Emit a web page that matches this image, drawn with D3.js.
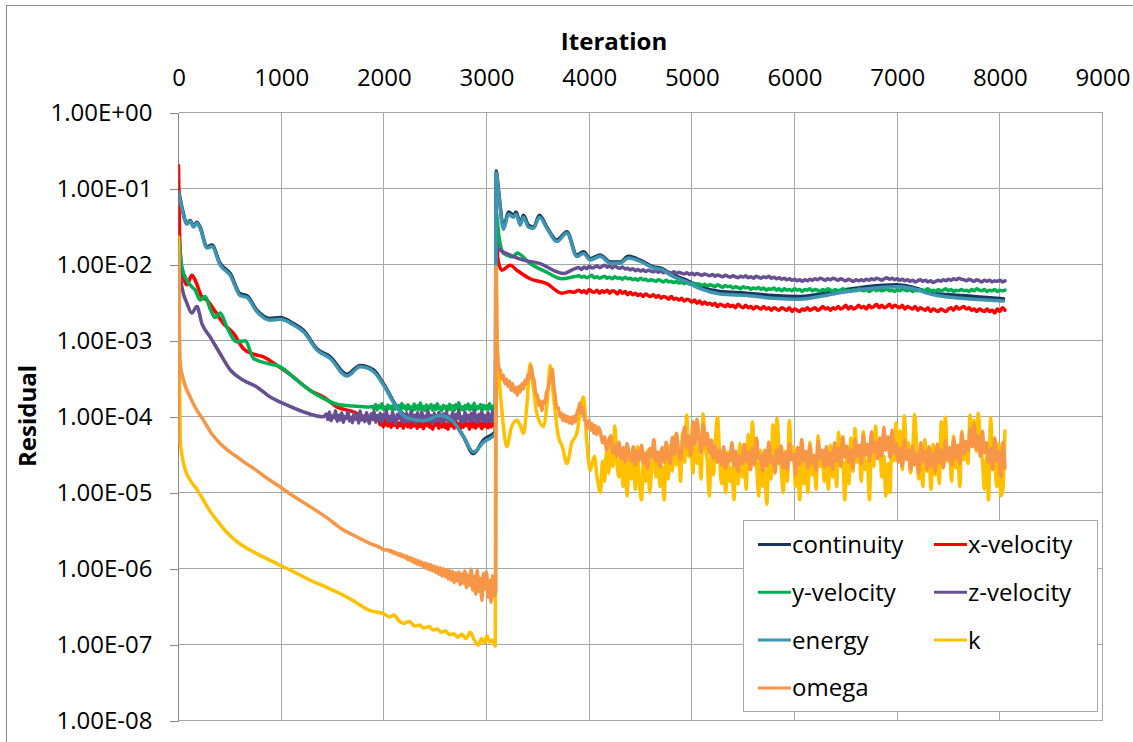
<!DOCTYPE html>
<html>
<head>
<meta charset="utf-8">
<script src="https://cdn.jsdelivr.net/npm/d3@7"></script>
<style>
  body { margin: 0; background: #fff; }
  svg text { font-family: "Open Sans", sans-serif; fill: #000; }
</style>
</head>
<body>
<svg id="chart" width="1133" height="742"></svg>
<script>
// Residual history of a CFD run, restarted at ~3100 iterations.
// Smooth parts are [iteration, residual] pairs, noisy parts are sampled values
// at a fixed iteration step (unit noted on each array).

const xTicks = [0, 1000, 2000, 3000, 4000, 5000, 6000, 7000, 8000, 9000];
const yTicks = [1, 1e-1, 1e-2, 1e-3, 1e-4, 1e-5, 1e-6, 1e-7, 1e-8];
const yTickLabels = ['1.00E+00', '1.00E-01', '1.00E-02', '1.00E-03', '1.00E-04',
  '1.00E-05', '1.00E-06', '1.00E-07', '1.00E-08'];

const seriesNames = ['continuity', 'x-velocity', 'y-velocity', 'z-velocity', 'energy', 'k', 'omega'];
const seriesColors = ['#17375E', '#FF0000', '#00B050', '#675091', '#3F95B0', '#FFC000', '#F79646'];

const continuity = [[0, 0.095], [33, 0.057], [82, 0.035], [114, 0.038], [146, 0.032], [179, 0.036],
  [211, 0.031], [277, 0.017], [325, 0.018], [406, 0.0103], [504, 0.0076], [601, 0.0041], [666, 0.0039],
  [763, 0.0025], [893, 0.00195], [991, 0.0020], [1120, 0.00167], [1218, 0.00136], [1348, 0.00078],
  [1478, 0.00061], [1640, 0.00036], [1770, 0.00047], [1900, 0.00041], [1997, 0.00027], [2127, 1.34e-4],
  [2224, 9.9e-5], [2387, 8.9e-5], [2549, 1.05e-4], [2679, 8.5e-5], [2776, 5.4e-5], [2873, 3.25e-5],
  [2971, 4.9e-5], [3085, 6.3e-5], [3094, 0.17], [3117, 0.095], [3166, 0.031], [3214, 0.049],
  [3263, 0.0445], [3289, 0.049], [3328, 0.0347], [3360, 0.0445], [3409, 0.033], [3458, 0.031],
  [3516, 0.0445], [3588, 0.031], [3685, 0.021], [3783, 0.027], [3880, 0.0133], [3945, 0.0147],
  [4010, 0.012], [4108, 0.0133], [4205, 0.0108], [4302, 0.0108], [4383, 0.0128], [4497, 0.0114],
  [4627, 0.0093], [4708, 0.0089], [4789, 0.0076], [4951, 0.0062], [5081, 0.0051], [5276, 0.0044],
  [5536, 0.0042], [5795, 0.0039], [6055, 0.0038], [6380, 0.0044], [6705, 0.0051], [6997, 0.0054],
  [7127, 0.0051], [7354, 0.0042], [7516, 0.0040], [7743, 0.0038], [8036, 0.00355]];

const energy = [[0, 0.09], [33, 0.055], [82, 0.034], [114, 0.037], [146, 0.031], [179, 0.035],
  [211, 0.030], [277, 0.0165], [325, 0.0172], [406, 0.0098], [504, 0.0072], [601, 0.0039], [666, 0.0037],
  [763, 0.0024], [893, 0.00185], [991, 0.0019], [1120, 0.0016], [1218, 0.0013], [1348, 0.00075],
  [1478, 0.00058], [1640, 0.00034], [1770, 0.00045], [1900, 0.00039], [1997, 0.00026], [2127, 1.3e-4],
  [2224, 9.6e-5], [2387, 8.8e-5], [2549, 1.03e-4], [2679, 8.4e-5], [2776, 5.5e-5], [2873, 3.4e-5],
  [2971, 4.6e-5], [3085, 5.9e-5], [3094, 0.16], [3117, 0.09], [3166, 0.029], [3214, 0.046],
  [3263, 0.042], [3289, 0.046], [3328, 0.033], [3360, 0.042], [3409, 0.031], [3458, 0.030],
  [3516, 0.042], [3588, 0.030], [3685, 0.020], [3783, 0.026], [3880, 0.0127], [3945, 0.014],
  [4010, 0.0115], [4108, 0.0128], [4205, 0.0104], [4302, 0.0104], [4383, 0.0122], [4497, 0.011],
  [4627, 0.009], [4708, 0.0086], [4789, 0.0073], [4951, 0.0059], [5081, 0.0048], [5276, 0.0041],
  [5536, 0.0039], [5795, 0.0036], [6055, 0.0035], [6380, 0.0041], [6705, 0.0048], [6997, 0.0051],
  [7127, 0.0049], [7354, 0.004], [7516, 0.0037], [7743, 0.0035], [8036, 0.0033]];

// x-velocity
const xVelStart = [[0, 0.2], [10, 0.026], [33, 0.0084], [82, 0.0054], [130, 0.0072], [163, 0.0062],
  [228, 0.00375], [277, 0.0034], [341, 0.0026], [438, 0.00167], [536, 0.00124], [633, 0.00078],
  [731, 0.00066], [828, 0.00061], [958, 0.00047], [1120, 0.00033], [1283, 0.00022], [1412, 0.00018],
  [1543, 1.34e-4], [1705, 1.15e-4], [1800, 1.0e-4], [1900, 9.2e-5]];
const xVelNoise1 = [ // 1950..3090 step 15, x1e-5
  9.0, 7.8, 8.6, 7.3, 9.2, 8.0, 7.5, 8.8, 7.2, 8.4,
  7.7, 9.0, 7.1, 8.2, 7.6, 8.9, 7.0, 8.5, 7.9, 7.3,
  8.7, 7.1, 8.3, 7.5, 9.1, 7.0, 8.0, 7.4, 8.8, 6.9,
  8.2, 7.6, 8.9, 7.2, 8.5, 6.8, 8.1, 7.7, 8.6, 7.0,
  8.4, 7.3, 9.0, 7.1, 7.9, 6.8, 8.7, 7.5, 8.2, 7.0,
  8.8, 7.4, 8.0, 6.9, 8.5, 7.2, 8.9, 7.6, 8.1, 6.8,
  8.6, 7.3, 8.3, 7.0, 9.0, 7.5, 8.2, 6.9, 8.7, 7.4,
  8.0, 7.1, 8.5, 7.3, 8.3, 7.6, 7.9];
const xVelRestart = [[3094, 0.03], [3110, 0.012], [3150, 0.0084], [3231, 0.0098], [3296, 0.0084],
  [3425, 0.0065], [3588, 0.0056], [3734, 0.0042], [3815, 0.0044], [3850, 0.0043]];
const xVelNoise2 = [ // 3900..8050 step 25, x1e-3
  4.6, 4.3, 4.5, 4.2, 4.7, 4.4, 4.3, 4.6, 4.2, 4.5,
  4.3, 4.6, 4.2, 4.5, 4.4, 4.1, 4.5, 4.2, 4.4, 4.0,
  4.3, 4.0, 4.2, 3.9, 4.1, 3.8, 4.1, 3.9, 3.8, 4.0,
  3.7, 3.9, 3.6, 3.8, 3.7, 3.5, 3.8, 3.5, 3.6, 3.4,
  3.6, 3.3, 3.5, 3.4, 3.2, 3.4, 3.1, 3.3, 3.0, 3.2,
  3.0, 3.1, 2.9, 3.1, 2.8, 3.0, 2.9, 2.8, 3.0, 2.8,
  2.9, 2.7, 3.0, 2.8, 2.7, 2.9, 2.7, 2.8, 2.6, 2.8,
  2.7, 2.6, 2.8, 2.6, 2.7, 2.5, 2.7, 2.6, 2.5, 2.7,
  2.6, 2.5, 2.7, 2.4, 2.6, 2.5, 2.4, 2.6, 2.5, 2.7,
  2.5, 2.6, 2.7, 2.5, 2.6, 2.8, 2.6, 2.7, 2.5, 2.7,
  2.6, 2.8, 2.6, 2.7, 2.9, 2.6, 2.8, 2.6, 2.7, 2.9,
  2.7, 2.8, 2.6, 2.9, 2.7, 2.8, 3.0, 2.7, 2.9, 2.7,
  2.8, 3.0, 2.7, 2.9, 2.8, 2.7, 2.9, 2.6, 2.8, 2.7,
  2.6, 2.8, 2.5, 2.7, 2.6, 2.5, 2.7, 2.4, 2.6, 2.5,
  2.4, 2.6, 2.5, 2.4, 2.6, 2.7, 2.5, 2.8, 2.6, 2.7,
  2.8, 2.6, 2.7, 2.5, 2.6, 2.4, 2.6, 2.5, 2.4, 2.6,
  2.4, 2.5, 2.3, 2.6, 2.4, 2.7, 2.5];

// y-velocity
const yVelStart = [[0, 0.023], [33, 0.0093], [82, 0.0062], [130, 0.0051], [163, 0.0046], [211, 0.0034],
  [260, 0.0038], [309, 0.0026], [357, 0.0020], [406, 0.0023], [471, 0.0015], [569, 0.00096],
  [650, 0.00099], [731, 0.00058], [861, 0.0005], [991, 0.00045], [1153, 0.0003], [1283, 0.00022],
  [1412, 1.73e-4], [1543, 1.45e-4], [1705, 1.37e-4], [1850, 1.33e-4]];
const yVelNoise1 = [ // 1890..3090 step 15, x1e-4
  1.35, 1.26, 1.44, 1.22, 1.38, 1.29, 1.47, 1.24, 1.33, 1.21,
  1.42, 1.27, 1.36, 1.20, 1.45, 1.25, 1.31, 1.40, 1.22, 1.48,
  1.28, 1.37, 1.21, 1.43, 1.26, 1.34, 1.19, 1.46, 1.24, 1.39,
  1.22, 1.50, 1.27, 1.35, 1.20, 1.42, 1.25, 1.32, 1.44, 1.21,
  1.38, 1.23, 1.47, 1.26, 1.33, 1.19, 1.41, 1.28, 1.36, 1.22,
  1.45, 1.24, 1.39, 1.20, 1.43, 1.27, 1.52, 1.23, 1.34, 1.21,
  1.40, 1.26, 1.46, 1.22, 1.37, 1.25, 1.49, 1.21, 1.35, 1.28,
  1.44, 1.20, 1.41, 1.26, 1.38, 1.23, 1.47, 1.25, 1.36, 1.22,
  1.42];
const yVelRestart = [[3094, 0.05], [3117, 0.0257], [3166, 0.014], [3263, 0.0126], [3296, 0.0142],
  [3425, 0.0103], [3588, 0.0079], [3734, 0.0065], [3850, 0.0069]];
const yVelNoise2 = [ // 3900..8050 step 25, x1e-3
  7.1, 6.8, 7.0, 6.7, 6.9, 7.2, 6.7, 6.9, 6.6, 6.8,
  7.0, 6.6, 6.8, 6.5, 6.9, 6.6, 6.7, 6.4, 6.8, 6.5,
  6.6, 6.3, 6.5, 6.2, 6.6, 6.3, 6.4, 6.1, 6.3, 6.2,
  6.0, 6.3, 6.1, 5.9, 6.2, 5.9, 6.0, 5.8, 6.0, 5.7,
  5.9, 5.6, 5.8, 5.5, 5.7, 5.4, 5.6, 5.5, 5.3, 5.5,
  5.2, 5.4, 5.3, 5.1, 5.4, 5.2, 5.0, 5.3, 5.1, 5.2,
  4.9, 5.1, 5.0, 4.8, 5.1, 4.9, 5.0, 4.7, 4.9, 4.8,
  5.0, 4.7, 4.9, 4.6, 4.8, 4.7, 4.9, 4.6, 4.8, 4.5,
  4.8, 4.6, 4.7, 4.5, 4.8, 4.6, 4.7, 4.4, 4.7, 4.6,
  4.8, 4.5, 4.7, 4.6, 4.4, 4.7, 4.5, 4.8, 4.6, 4.5,
  4.7, 4.4, 4.6, 4.8, 4.5, 4.6, 4.4, 4.7, 4.5, 4.8,
  4.6, 4.5, 4.7, 4.4, 4.6, 4.8, 4.5, 4.7, 4.5, 4.6,
  4.8, 4.5, 4.6, 4.4, 4.7, 4.5, 4.8, 4.6, 4.5, 4.7,
  4.4, 4.6, 4.5, 4.7, 4.4, 4.6, 4.8, 4.5, 4.6, 4.4,
  4.7, 4.5, 4.6, 4.8, 4.5, 4.7, 4.4, 4.6, 4.5, 4.7,
  4.5, 4.6, 4.4, 4.7, 4.5, 4.8, 4.6, 4.5, 4.7, 4.4,
  4.6, 4.5, 4.7, 4.4, 4.6, 4.5, 4.6];

// z-velocity
const zVelStart = [[0, 0.012], [33, 0.0051], [82, 0.0031], [130, 0.0023], [179, 0.0028],
  [228, 0.00167], [309, 0.00111], [406, 0.00067], [504, 0.00041], [633, 0.0003], [763, 0.000245],
  [893, 0.00018], [1023, 0.000148], [1218, 0.000115], [1412, 9.9e-5]];
const zVelNoise1 = [ // 1440..3090 step 15, x1e-5
  10.8, 9.1, 11.5, 8.8, 10.2, 9.6, 11.9, 8.6, 10.4, 9.0,
  11.2, 8.4, 10.0, 9.4, 11.6, 8.7, 9.8, 8.3, 11.0, 9.2,
  10.5, 8.2, 11.8, 9.0, 10.1, 8.5, 11.3, 9.5, 8.1, 10.9,
  9.3, 11.7, 8.4, 10.3, 8.9, 11.1, 8.2, 10.6, 9.7, 12.0,
  8.5, 10.0, 8.8, 11.4, 9.1, 8.0, 10.7, 9.4, 11.5, 8.6,
  10.2, 8.3, 11.0, 9.6, 8.4, 11.8, 9.0, 10.4, 8.1, 11.2,
  9.5, 8.7, 11.6, 8.4, 10.1, 9.2, 11.9, 8.5, 10.3, 8.0,
  11.0, 9.3, 8.6, 11.4, 9.8, 8.2, 10.8, 9.0, 11.7, 8.4,
  10.0, 8.9, 11.3, 8.3, 10.6, 9.5, 12.1, 8.6, 9.9, 8.2,
  11.5, 9.1, 10.4, 8.5, 11.0, 8.8, 11.8, 9.4, 8.3, 10.7,
  9.0, 11.6, 8.6, 10.3, 8.4, 11.2, 9.6, 8.5, 11.9, 9.2, 10.5];
const zVelRestart = [[3094, 0.02], [3101, 0.017], [3133, 0.0155], [3231, 0.0133], [3360, 0.0114],
  [3523, 0.0103], [3653, 0.0084], [3750, 0.0076], [3850, 0.0087]];
const zVelNoise2 = [ // 3900..8050 step 25, x1e-3
  9.1, 8.6, 9.3, 8.8, 9.5, 9.0, 9.2, 9.6, 9.1, 9.4,
  9.8, 9.2, 9.6, 9.0, 9.5, 9.1, 8.9, 9.3, 8.7, 8.9,
  8.5, 8.8, 8.3, 8.6, 8.2, 8.5, 8.1, 8.4, 8.2, 8.0,
  8.3, 7.9, 8.2, 7.8, 8.1, 7.9, 7.7, 8.0, 7.6, 7.9,
  7.7, 7.5, 7.8, 7.4, 7.7, 7.3, 7.6, 7.4, 7.2, 7.5,
  7.3, 7.1, 7.4, 7.0, 7.3, 7.1, 6.9, 7.2, 7.0, 6.8,
  7.1, 6.9, 6.7, 7.0, 6.8, 7.1, 6.7, 6.9, 6.6, 7.0,
  6.8, 6.6, 6.9, 6.7, 7.0, 6.6, 6.8, 6.5, 6.7, 6.4,
  6.6, 6.3, 6.5, 6.2, 6.4, 6.1, 6.3, 6.0, 6.3, 6.1,
  6.4, 6.2, 6.5, 6.3, 6.6, 6.4, 6.2, 6.5, 6.3, 6.6,
  6.4, 6.2, 6.5, 6.3, 6.1, 6.4, 6.2, 6.0, 6.3, 6.1,
  6.3, 6.1, 6.4, 6.2, 6.5, 6.3, 6.6, 6.4, 6.2, 6.5,
  6.7, 6.4, 6.6, 6.3, 6.5, 6.2, 6.4, 6.1, 6.3, 6.0,
  6.2, 5.9, 6.1, 6.3, 6.0, 6.2, 5.9, 6.1, 5.8, 6.0,
  6.2, 6.0, 6.3, 6.1, 6.4, 6.2, 6.5, 6.3, 6.6, 6.4,
  6.3, 6.1, 6.4, 6.2, 6.0, 6.3, 6.1, 5.9, 6.2, 6.0,
  6.2, 5.9, 6.1, 6.0, 6.2, 5.9, 6.1];

// k
const kStart = [[0, 0.023], [5, 0.002], [17, 4.9e-5], [40, 2.8e-5], [65, 2.0e-5], [114, 1.45e-5],
  [180, 1.1e-5], [244, 7.9e-6], [310, 5.6e-6], [374, 4.3e-6], [470, 3.0e-6], [569, 2.26e-6],
  [650, 1.9e-6], [731, 1.65e-6], [860, 1.35e-6], [991, 1.1e-6], [1140, 8.8e-7], [1283, 7e-7],
  [1450, 5.6e-7], [1607, 4.45e-7], [1740, 3.5e-7], [1867, 2.8e-7], [1997, 2.55e-7], [2060, 2.3e-7],
  [2100, 2.45e-7], [2140, 2.1e-7], [2192, 1.9e-7], [2250, 2.0e-7], [2300, 1.75e-7], [2350, 1.8e-7],
  [2387, 1.65e-7], [2440, 1.72e-7], [2480, 1.55e-7], [2517, 1.6e-7], [2560, 1.45e-7], [2600, 1.52e-7],
  [2640, 1.35e-7], [2679, 1.38e-7], [2720, 1.25e-7], [2760, 1.36e-7], [2800, 1.2e-7], [2841, 1.45e-7],
  [2880, 1.15e-7], [2922, 9.8e-8], [2950, 1.2e-7], [2980, 1.05e-7], [3004, 1.3e-7], [3030, 1.08e-7],
  [3060, 1.15e-7], [3085, 9.5e-8]];
const kRestart = [[3094, 0.0093], [3105, 0.001], [3117, 4.5e-4], [3150, 1.2e-4], [3198, 4e-5],
  [3240, 7e-5], [3296, 8.9e-5], [3330, 7.5e-5], [3360, 6e-5], [3395, 1.5e-4], [3425, 5e-4],
  [3455, 2.5e-4], [3490, 1.1e-4], [3555, 7.4e-5], [3590, 1.5e-4], [3620, 4.7e-4], [3650, 2e-4],
  [3701, 5.4e-5], [3740, 4e-5], [3783, 2.4e-5], [3830, 4.5e-5], [3880, 6e-5], [3915, 1.2e-4],
  [3945, 1.8e-4], [3975, 5e-5], [4010, 1.95e-5], [4050, 3e-5], [4080, 1.5e-5]];
const kNoise = [ // 4110..8050 step 20, x1e-5
  1.0, 2.6, 1.4, 3.5, 1.8, 4.8, 2.2, 7.5, 2.5, 1.6,
  3.0, 1.2, 2.4, 0.9, 3.3, 1.5, 2.8, 1.1, 4.0, 1.3,
  0.8, 2.7, 1.4, 3.6, 1.0, 2.3, 4.5, 1.6, 3.1, 1.2,
  2.2, 0.8, 3.0, 1.5, 4.2, 1.9, 5.5, 2.3, 3.4, 1.4,
  6.0, 2.5, 10.5, 3.0, 4.6, 1.8, 7.2, 2.4, 3.8, 1.5,
  10.8, 4.0, 2.6, 0.9, 3.9, 1.7, 5.0, 9.8, 3.2, 1.3,
  2.5, 1.0, 3.4, 1.4, 2.1, 0.8, 3.0, 1.3, 4.4, 1.6,
  2.6, 1.1, 5.8, 2.0, 8.5, 3.0, 2.4, 0.9, 3.6, 1.2,
  2.0, 0.7, 3.3, 1.5, 7.8, 2.6, 9.5, 3.4, 2.1, 1.0,
  3.5, 1.4, 8.8, 2.9, 4.0, 1.2, 2.6, 0.8, 3.2, 1.3,
  2.4, 1.0, 4.6, 1.7, 3.0, 1.1, 5.6, 2.2, 3.4, 1.4,
  2.7, 1.1, 4.2, 1.6, 3.1, 1.2, 6.2, 2.3, 2.5, 0.8,
  3.3, 1.3, 5.2, 1.9, 7.0, 2.5, 3.9, 1.4, 6.3, 2.0,
  2.6, 0.8, 4.8, 2.2, 7.5, 2.8, 4.1, 1.6, 3.0, 0.9,
  2.4, 1.0, 5.9, 2.6, 8.2, 3.1, 6.4, 2.0, 10.2, 3.6,
  4.5, 1.8, 3.2, 10.6, 4.0, 1.5, 3.3, 1.2, 5.0, 1.9,
  2.8, 1.1, 4.3, 1.7, 3.5, 1.3, 8.6, 3.0, 9.8, 2.6,
  3.8, 1.4, 5.5, 2.1, 3.2, 1.2, 6.4, 2.7, 4.6, 2.4,
  10.5, 4.2, 9.0, 3.5, 11.0, 4.8, 2.6, 1.1, 3.0, 0.8,
  9.6, 3.4, 2.5, 1.2, 4.4, 0.9, 1.1, 6.5];

// omega
const omegaStart = [[0, 4.4e-5], [3, 0.015], [8, 0.002], [17, 5e-4], [49, 3e-4], [114, 1.8e-4],
  [180, 1.2e-4], [244, 8.9e-5], [320, 6e-5], [406, 4.4e-5], [490, 3.5e-5], [569, 2.95e-5],
  [650, 2.45e-5], [731, 2.08e-5], [860, 1.55e-5], [991, 1.18e-5], [1140, 8.6e-6], [1283, 6.5e-6],
  [1450, 4.6e-6], [1607, 3.2e-6], [1740, 2.6e-6], [1867, 2.13e-6], [1960, 1.9e-6], [2010, 1.75e-6]];
const omegaNoise1 = [ // 2040..3090 step 15, x1e-7
  17.6, 16.8, 17.2, 16.0, 16.6, 15.5, 16.0, 14.9, 15.6, 14.3,
  15.0, 13.8, 14.6, 13.0, 14.1, 12.6, 13.5, 11.9, 13.0, 11.4,
  12.6, 11.0, 12.2, 10.5, 11.8, 10.0, 11.5, 9.6, 11.2, 9.3,
  10.8, 8.9, 10.5, 8.4, 10.2, 8.0, 9.9, 7.8, 9.6, 7.3,
  9.4, 7.0, 9.2, 6.5, 8.8, 6.9, 9.0, 6.1, 8.5, 6.4,
  9.3, 5.6, 8.2, 6.0, 9.8, 5.2, 7.9, 4.6, 9.5, 5.0,
  7.4, 3.8, 8.6, 5.4, 9.0, 4.2, 7.0, 3.6, 8.0, 4.4,
  5.0];
const omegaRestart = [[3094, 9.3e-3], [3100, 1.0e-3], [3110, 5.6e-4], [3120, 4.4e-4], [3135, 4.0e-4],
  [3150, 3.1e-4], [3165, 3.5e-4], [3180, 2.7e-4], [3195, 3.1e-4], [3210, 2.5e-4], [3225, 2.9e-4],
  [3240, 2.2e-4], [3255, 2.7e-4], [3270, 2.1e-4], [3285, 2.4e-4], [3300, 1.9e-4], [3315, 2.5e-4],
  [3330, 2.1e-4], [3345, 2.7e-4], [3360, 2.3e-4], [3375, 3.0e-4], [3390, 2.7e-4], [3405, 3.6e-4],
  [3420, 3.2e-4], [3435, 4.6e-4], [3450, 3.4e-4], [3465, 2.9e-4], [3480, 2.0e-4], [3495, 1.9e-4],
  [3510, 1.4e-4], [3525, 1.6e-4], [3540, 1.2e-4], [3555, 1.6e-4], [3570, 1.5e-4], [3585, 2.1e-4],
  [3600, 2.3e-4], [3615, 3.0e-4], [3630, 3.6e-4], [3640, 4.2e-4], [3655, 2.6e-4], [3670, 1.8e-4],
  [3685, 1.3e-4], [3700, 1.3e-4], [3715, 1.0e-4], [3730, 1.1e-4], [3745, 8.8e-5], [3760, 1.05e-4],
  [3775, 8.6e-5], [3790, 1.0e-4], [3805, 8.2e-5], [3820, 9.8e-5], [3835, 8.0e-5], [3850, 1.0e-4],
  [3865, 8.5e-5], [3880, 1.1e-4], [3895, 1.25e-4], [3910, 1.5e-4], [3925, 1.1e-4], [3940, 1.3e-4],
  [3955, 9e-5], [3970, 8.6e-5], [3985, 7.0e-5], [4000, 9.0e-5], [4015, 6.6e-5], [4030, 8.0e-5],
  [4045, 6.0e-5], [4060, 7.6e-5], [4075, 5.8e-5], [4090, 7.2e-5]];
const omegaNoise2 = [ // 4110..8050 step 20, x1e-5
  6.2, 4.5, 5.4, 3.6, 4.8, 5.6, 3.3, 4.2, 3.0, 4.6,
  2.8, 3.9, 2.5, 4.4, 3.1, 2.6, 4.0, 2.3, 3.5, 2.7,
  4.2, 2.4, 3.3, 2.1, 3.8, 2.9, 5.0, 2.6, 3.4, 2.2,
  3.9, 2.5, 4.6, 3.0, 2.4, 5.3, 3.2, 6.0, 3.6, 2.7,
  4.8, 7.2, 3.9, 5.6, 3.1, 8.5, 4.4, 9.2, 5.0, 3.4,
  7.8, 4.2, 6.0, 3.3, 4.9, 2.8, 4.1, 2.5, 3.6, 2.3,
  4.0, 2.1, 3.2, 2.6, 4.5, 2.2, 3.5, 1.9, 3.0, 2.4,
  4.3, 2.6, 3.4, 2.0, 3.8, 2.3, 5.2, 2.8, 3.1, 1.9,
  3.6, 2.2, 4.6, 2.5, 3.0, 1.8, 3.7, 2.4, 4.1, 2.1,
  3.3, 2.0, 4.4, 2.7, 3.2, 1.7, 3.9, 2.3, 5.0, 2.6,
  3.5, 2.1, 4.2, 2.4, 3.1, 1.9, 4.7, 2.8, 3.6, 2.2,
  4.0, 2.3, 3.3, 2.0, 4.5, 2.6, 3.8, 2.2, 5.4, 2.9,
  4.1, 2.5, 3.6, 2.1, 4.9, 3.0, 4.2, 2.4, 5.8, 3.1,
  4.3, 2.6, 6.3, 3.4, 4.6, 2.8, 5.2, 3.0, 7.2, 3.6,
  5.4, 2.9, 6.6, 3.3, 4.4, 2.5, 3.8, 2.2, 4.9, 2.7,
  3.6, 2.0, 4.1, 2.3, 3.2, 1.8, 4.5, 2.6, 3.5, 2.0,
  4.0, 2.2, 3.3, 1.9, 4.3, 2.5, 3.6, 2.1, 4.8, 2.7,
  3.9, 2.3, 5.1, 2.8, 4.2, 2.4, 6.0, 3.2, 4.7, 3.5,
  6.8, 4.0, 8.0, 3.7, 5.5, 3.0, 6.4, 3.3, 4.5, 2.5,
  3.8, 2.0, 5.2, 2.6, 3.4, 1.6, 4.6, 2.1];

// turn a sampled block into [iteration, residual] pairs
function sampled(start, step, unit, vals) {
  return vals.map((v, i) => [start + step * i, v * unit]);
}

const seriesPoints = [
  continuity,
  [...xVelStart, ...sampled(1950, 15, 1e-5, xVelNoise1), ...xVelRestart, ...sampled(3900, 25, 1e-3, xVelNoise2)],
  [...yVelStart, ...sampled(1890, 15, 1e-4, yVelNoise1), ...yVelRestart, ...sampled(3900, 25, 1e-3, yVelNoise2)],
  [...zVelStart, ...sampled(1440, 15, 1e-5, zVelNoise1), ...zVelRestart, ...sampled(3900, 25, 1e-3, zVelNoise2)],
  energy,
  [...kStart, ...kRestart, ...sampled(4110, 20, 1e-5, kNoise)],
  [...omegaStart, ...sampled(2040, 15, 1e-7, omegaNoise1), ...omegaRestart, ...sampled(4110, 20, 1e-5, omegaNoise2)]
];

const svg = d3.select('#chart');

// chart frame
svg.append('rect')
  .attr('x', 6.5).attr('y', 5.5)
  .attr('width', 1200).attr('height', 800)
  .attr('fill', 'none')
  .attr('stroke', '#8c8c8c');

const x = d3.scaleLinear().domain([0, 9000]).range([178.5, 1102.5]);
const y = d3.scaleLog().domain([1e-8, 1]).range([720.5, 112.5]);

// gridlines
const grid = svg.append('g').attr('shape-rendering', 'crispEdges');
grid.selectAll('line.h')
  .data(yTicks)
  .enter()
  .append('line')
  .attr('x1', x(0)).attr('x2', x(9000))
  .attr('y1', (d) => y(d)).attr('y2', (d) => y(d))
  .attr('stroke', '#a6a6a6');
grid.selectAll('line.v')
  .data(xTicks)
  .enter()
  .append('line')
  .attr('x1', (d) => x(d)).attr('x2', (d) => x(d))
  .attr('y1', y(1)).attr('y2', y(1e-8))
  .attr('stroke', (d) => (d === 0 ? '#868686' : '#a6a6a6'));

// axes
const yAxis = d3.axisLeft(y)
  .tickValues(yTicks)
  .tickFormat((d, i) => yTickLabels[i])
  .tickSize(9)
  .tickPadding(17);
const yAxisG = svg.append('g')
  .attr('transform', 'translate(' + x(0) + ',0)')
  .call(yAxis);
yAxisG.select('.domain').remove();
yAxisG.selectAll('line').attr('stroke', '#868686').attr('shape-rendering', 'crispEdges');
yAxisG.selectAll('text')
  .attr('font-family', '"Open Sans", sans-serif')
  .attr('font-size', 24)
  .attr('fill', '#000');

const xAxis = d3.axisTop(x)
  .tickValues(xTicks)
  .tickFormat((d) => d.toString())
  .tickSize(0)
  .tickPadding(27);
const xAxisG = svg.append('g')
  .attr('transform', 'translate(0,' + y(1) + ')')
  .call(xAxis);
xAxisG.select('.domain').remove();
xAxisG.selectAll('text')
  .attr('font-family', '"Open Sans", sans-serif')
  .attr('font-size', 24)
  .attr('fill', '#000');

// axis titles
svg.append('text')
  .attr('x', 614).attr('y', 42).attr('dy', '0.35em')
  .attr('text-anchor', 'middle')
  .attr('font-size', 24).attr('font-weight', 'bold')
  .text('Iteration');
svg.append('text')
  .attr('transform', 'translate(28,416) rotate(-90)')
  .attr('dy', '0.35em')
  .attr('text-anchor', 'middle')
  .attr('font-size', 24).attr('font-weight', 'bold')
  .text('Residual');

// residual lines
svg.append('clipPath').attr('id', 'plot-clip')
  .append('rect')
  .attr('x', x(0)).attr('y', y(1))
  .attr('width', x(9000) - x(0)).attr('height', y(1e-8) - y(1));

// monotone curve keeps the sparse smooth parts rounded without overshoot
const line = d3.line()
  .curve(d3.curveMonotoneX)
  .x((d) => x(d[0]))
  .y((d) => y(d[1]));

svg.append('g')
  .attr('clip-path', 'url(#plot-clip)')
  .selectAll('path')
  .data(seriesPoints)
  .enter()
  .append('path')
  .attr('d', (d) => line(d))
  .attr('fill', 'none')
  .attr('stroke', (d, i) => seriesColors[i])
  .attr('stroke-width', 3.5)
  .attr('stroke-linejoin', 'round')
  .attr('stroke-linecap', 'round');

// legend
const legend = svg.append('g');
legend.append('rect')
  .attr('x', 743.5).attr('y', 520.5)
  .attr('width', 354).attr('height', 191)
  .attr('fill', '#fff')
  .attr('stroke', '#a6a6a6');

const items = legend.selectAll('g.item')
  .data(seriesNames)
  .enter()
  .append('g')
  .attr('class', 'item')
  .attr('transform', (d, i) => 'translate(' + (i % 2 === 0 ? 758 : 934) + ',' + (544.5 + Math.floor(i / 2) * 47.8) + ')');
items.append('line')
  .attr('x1', 0).attr('x2', 33)
  .attr('stroke', (d, i) => seriesColors[i])
  .attr('stroke-width', 3);
items.append('text')
  .attr('x', 34).attr('dy', '0.35em')
  .attr('font-size', 24)
  .text((d) => d);
</script>
</body>
</html>
